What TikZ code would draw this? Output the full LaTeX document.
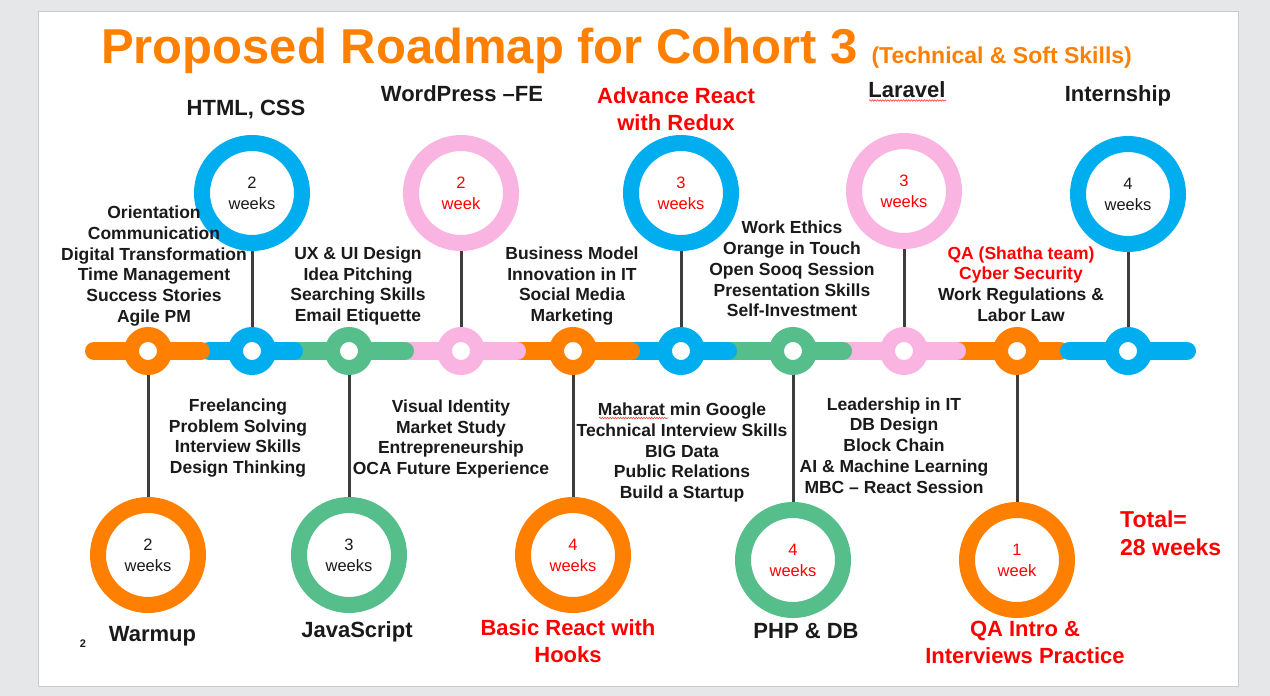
\documentclass[tikz,border=0pt]{standalone}
\usepackage{fontspec}
\setmainfont{Liberation Sans}
\usetikzlibrary{decorations.pathmorphing}
\definecolor{corange}{HTML}{FF7F00}
\definecolor{cblue}{HTML}{00AEEF}
\definecolor{cgreen}{HTML}{55BE8B}
\definecolor{cpink}{HTML}{F9B4E2}
\definecolor{cred}{HTML}{FF0000}
\definecolor{cline}{HTML}{3D3D3D}
\definecolor{cbg}{HTML}{E6E7E9}
\definecolor{cborder}{HTML}{CACACA}
\definecolor{ctxt}{HTML}{1A1A1A}
\begin{document}
\begin{tikzpicture}[x=1pt,y=-1pt,
 bigring/.style={circle, draw=#1, line width=16pt, fill=white, minimum size=100pt, inner sep=0pt, align=center, font=\fontsize{16.5}{21}\selectfont},
 hub/.style={circle, draw=#1, line width=15pt, fill=white, minimum size=33pt, inner sep=0pt},
 seg/.style={line width=18pt, line cap=round, draw=#1},
 link/.style={draw=cline, line width=3pt},
 skills/.style={align=center, inner sep=0pt, text=ctxt, font=\bfseries\fontsize{17.5}{20.8}\selectfont},
 tlabel/.style={inner sep=0pt, anchor=base, text=ctxt, font=\bfseries\fontsize{22}{27}\selectfont},
 tlabeltwo/.style={inner sep=0pt, align=center, font=\bfseries\fontsize{22}{27}\selectfont},
 wavy/.style={draw=cred!75, line width=0.6pt, decorate, decoration={snake, amplitude=0.8pt, segment length=2.6pt}},
]
% canvas
\fill[cbg] (0,0) rectangle (1270,696);
\useasboundingbox (0,0) rectangle (1270,696);
\draw[cborder, fill=white, line width=1pt] (38,11) rectangle (1238,686);

% title
\node[anchor=base, inner sep=0pt, text=corange, font=\bfseries] (title) at (616.5,63)
  {{\fontsize{49}{55}\selectfont Proposed Roadmap for Cohort 3 }{\fontsize{23}{27}\selectfont (Technical \& Soft Skills)}};

% timeline bar segments
\draw[seg=corange] (954,351) -- (1060,351);
\draw[seg=cblue] (1069,351) -- (1187,351);
\draw[seg=cpink] (839,351) -- (957,351);
\draw[seg=cgreen] (720,351) -- (843,351);
\draw[seg=cblue] (629,351) -- (728,351);
\draw[seg=corange] (512,351) -- (631,351);
\draw[seg=cpink] (396,351) -- (517,351);
\draw[seg=cgreen] (296,351) -- (405,351);
\draw[seg=cblue] (209,351) -- (294,351);
\draw[seg=corange] (94,351) -- (201,351);

% hubs on the bar
\node[hub=corange] (h1) at (148,351) {};
\node[hub=cblue] (h2) at (252,351) {};
\node[hub=cgreen] (h3) at (349,351) {};
\node[hub=cpink] (h4) at (461,351) {};
\node[hub=corange] (h5) at (573,351) {};
\node[hub=cblue] (h6) at (681,351) {};
\node[hub=cgreen] (h7) at (793,351) {};
\node[hub=cpink] (h8) at (904,351) {};
\node[hub=corange] (h9) at (1017,351) {};
\node[hub=cblue] (h10) at (1128,351) {};

% top rings
\node[bigring=cblue, text=ctxt] (t2) at (252,193) {2\\weeks};
\node[bigring=cpink, text=cred] (t4) at (461,193) {2\\week};
\node[bigring=cblue, text=cred] (t6) at (681,193) {3\\weeks};
\node[bigring=cpink, text=cred] (t8) at (904,191) {3\\weeks};
\node[bigring=cblue, text=ctxt] (t10) at (1128,194) {4\\weeks};

% bottom rings
\node[bigring=corange, text=ctxt] (b1) at (148,555) {2\\weeks};
\node[bigring=cgreen, text=ctxt] (b3) at (349,555) {3\\weeks};
\node[bigring=corange, text=cred] (b5) at (573,555) {4\\weeks};
\node[bigring=cgreen, text=cred] (b7) at (793,560) {4\\weeks};
\node[bigring=corange, text=cred] (b9) at (1017,560) {1\\week};

% connectors
\draw[link] (t2.south) -- (h2.north);
\draw[link] (t4.south) -- (h4.north);
\draw[link] (t6.south) -- (h6.north);
\draw[link] (t8.south) -- (h8.north);
\draw[link] (t10.south) -- (h10.north);
\draw[link] (h1.south) -- (b1.north);
\draw[link] (h3.south) -- (b3.north);
\draw[link] (h5.south) -- (b5.north);
\draw[link] (h7.south) -- (b7.north);
\draw[link] (h9.south) -- (b9.north);

% top labels
\node[tlabel] (l2) at (246,115) {HTML, CSS};
\node[tlabel] (l4) at (462,101) {WordPress –FE};
\node[tlabeltwo, text=cred] (l6) at (676,109.5) {Advance React\\with Redux};
\node[tlabel] (l8) at (907,97) {Laravel};
\node[tlabel] (l10) at (1118,101) {Internship};
\coordinate (lav1) at (869,100.5);
\coordinate (lav2) at (946,100.5);
\draw[wavy] (lav1) -- (lav2);

% bottom labels
\node[tlabel] (l1) at (152.5,641) {Warmup};
\node[tlabel] (l3) at (357,637) {JavaScript};
\node[tlabeltwo, text=cred] (l5) at (568,641.5) {Basic React with\\Hooks};
\node[tlabel] (l7) at (806,638) {PHP \& DB};
\node[tlabeltwo, text=cred] (l9) at (1025,642.5) {QA Intro \&\\Interviews Practice};
\node[inner sep=0pt, anchor=west, align=left, text=cred, font=\bfseries\fontsize{23}{28}\selectfont] (total) at (1120,533) {Total=\\28 weeks};

% skill blocks above the bar
\node[skills] (s1) at (154,266) {Orientation\\Communication\\Digital Transformation\\Time Management\\Success Stories\\Agile PM};
\node[skills] (s3) at (358,286) {UX \& UI Design\\Idea Pitching\\Searching Skills\\Email Etiquette};
\node[skills] (s5) at (572,286) {Business Model\\Innovation in IT\\Social Media\\Marketing};
\node[skills] (s7) at (792,269) {Work Ethics\\Orange in Touch\\Open Sooq Session\\Presentation Skills\\Self-Investment};
\node[skills] (s9) at (1021,284) {\textcolor{cred}{QA (Shatha team)}\\\textcolor{cred}{Cyber Security}\\Work Regulations \&\\Labor Law};

% skill blocks below the bar
\node[skills] (s2) at (238,438) {Freelancing\\Problem Solving\\Interview Skills\\Design Thinking};
\node[skills] (s4) at (451,439) {Visual Identity\\Market Study\\Entrepreneurship\\OCA Future Experience};
\node[skills] (s6) at (682,452.5) {Maharat min Google\\Technical Interview Skills\\BIG Data\\Public Relations\\Build a Startup};
\node[skills] (s8) at (894,445.5) {Leadership in IT\\DB Design\\Block Chain\\AI \& Machine Learning\\MBC – React Session};
\coordinate (mah1) at (599,418);
\coordinate (mah2) at (668,418);
\draw[wavy] (mah1) -- (mah2);

% slide number
\node[anchor=base, inner sep=0pt, text=ctxt, font=\bfseries\fontsize{11}{13}\selectfont] (pageno) at (83,647) {2};
\end{tikzpicture}
\end{document}
